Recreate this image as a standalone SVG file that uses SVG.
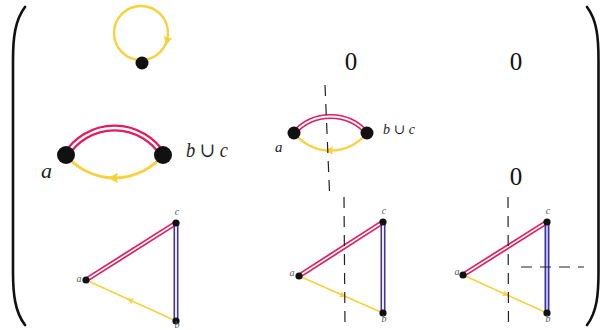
<svg xmlns="http://www.w3.org/2000/svg" width="601" height="330" viewBox="0 0 601 330">
<style>
.paren{fill:none;stroke:#111;stroke-width:2.6;stroke-linecap:round}
.dot{fill:#111}
.mag{fill:none;stroke:#E31C5F}
.yel{fill:none;stroke:#F7D23E}
.blu{fill:none;stroke:#3F32A6}
.gap{fill:none;stroke:#fff}
.dash{fill:none;stroke:#222;stroke-width:1.2;stroke-dasharray:11 8}
.lbl{font-family:"Liberation Serif","DejaVu Serif",serif;font-style:italic;fill:#222}
.sm{font-family:"Liberation Serif","DejaVu Serif",serif;font-style:italic;fill:#555;font-size:10px;text-anchor:middle}
.zero{font-family:"Liberation Serif","DejaVu Serif",serif;font-size:25px;fill:#111;text-anchor:middle}
.ah{fill:#F7D23E}
</style>
<defs>
<path id="ah" d="M4,0 L-4,-4 L-2.5,0 L-4,4 Z"/>
</defs>
<g id="parens">
<path class="paren" d="M25,7 C15,20 13,38 13,60 L13,272 C13,294 15,312 25,325"/>
<path class="paren" d="M587,7 C597,20 598.5,38 598.5,60 L598.5,272 C598.5,294 597,312 587,325"/>
</g>
<g id="connectors">
<circle class="yel" cx="141" cy="33" r="27" stroke-width="2.4"/>
<use href="#ah" class="ah" transform="translate(167,41) rotate(105) scale(1.1)"/>
<path class="mag" stroke-width="7" d="M66,155 A57,57 0 0 1 163,155"/>
<path class="gap" stroke-width="2.4" d="M66,155 A57,57 0 0 1 163,155"/>
<path class="yel" stroke-width="2.8" d="M66,155 A62.6,62.6 0 0 0 163,155"/>
<use href="#ah" class="ah" transform="translate(113,178) rotate(180) scale(1.3)"/>
<path class="mag" stroke-width="5.2" d="M294,133 A48.6,48.6 0 0 1 367,133"/>
<path class="gap" stroke-width="1.8" d="M294,133 A48.6,48.6 0 0 1 367,133"/>
<path class="yel" stroke-width="2.3" d="M294,133 A46.8,46.8 0 0 0 367,133"/>
<use href="#ah" class="ah" transform="translate(329,150.5) rotate(180) scale(1.05)"/>
<path class="dash" d="M325,85 L329.5,192"/>
<path class="mag" stroke-width="5" d="M86,280 L176,223"/>
<path class="gap" stroke-width="1.6" d="M86,280 L176,223"/>
<path class="blu" stroke-width="5" d="M176,223 L176,321"/>
<path class="gap" stroke-width="1.8" d="M176,223 L176,321"/>
<path class="yel" stroke-width="1.6" d="M176,321 L86,280"/>
<use href="#ah" class="ah" transform="translate(130,300) rotate(204.5) scale(0.8)"/>
<path class="mag" stroke-width="5" d="M299,276 L383,222"/>
<path class="gap" stroke-width="1.6" d="M299,276 L383,222"/>
<path class="blu" stroke-width="5" d="M383,222 L383,313"/>
<path class="gap" stroke-width="1.8" d="M383,222 L383,313"/>
<path class="yel" stroke-width="1.6" d="M299,276 L383,313"/>
<use href="#ah" class="ah" transform="translate(343,295.5) rotate(23.8) scale(0.8)"/>
<path class="dash" d="M344,197 L345,330"/>
<path class="mag" stroke-width="5" d="M463,275 L547,222"/>
<path class="gap" stroke-width="1.6" d="M463,275 L547,222"/>
<path class="blu" stroke-width="5" d="M547,222 L547,313"/>
<path fill="none" stroke="#C9C6F0" stroke-width="1.8" d="M547,222 L547,313"/>
<path class="yel" stroke-width="1.6" d="M463,275 L547,313"/>
<use href="#ah" class="ah" transform="translate(506,294.5) rotate(24.3) scale(0.8)"/>
<path class="dash" d="M508,197 L508.5,330"/>
<path class="dash" d="M521,267 L584,267"/>
</g>
<g id="n-loop">
<circle class="dot" cx="142" cy="63" r="6.5"/>
</g>
<g id="n-ml-a">
<circle class="dot" cx="66" cy="155" r="9"/>
<text class="lbl" x="41" y="178" font-size="22">a</text>
</g>
<g id="n-ml-bc">
<circle class="dot" cx="163" cy="155" r="9"/>
<text class="lbl" x="186" y="157" font-size="20" textLength="42" lengthAdjust="spacingAndGlyphs">b ∪ c</text>
</g>
<g id="n-mc-a">
<circle class="dot" cx="294" cy="133" r="6.5"/>
<text class="lbl" x="275" y="152" font-size="15">a</text>
</g>
<g id="n-mc-bc">
<circle class="dot" cx="367" cy="133" r="6.5"/>
<text class="lbl" x="383" y="134" font-size="14" textLength="32" lengthAdjust="spacingAndGlyphs">b ∪ c</text>
</g>
<g id="zeros">
<text class="zero" x="351" y="70">0</text>
<text class="zero" x="516" y="70">0</text>
<text class="zero" x="516" y="185">0</text>
</g>
<g id="n-bl">
<circle class="dot" cx="86" cy="280" r="3.6"/>
<circle class="dot" cx="176" cy="223" r="3.6"/>
<circle class="dot" cx="176" cy="321" r="3.6"/>
<text class="sm" x="79" y="282">a</text>
<text class="sm" x="177" y="215">c</text>
<text class="sm" x="177" y="327.5">b</text>
</g>
<g id="n-bm">
<circle class="dot" cx="299" cy="276" r="3.6"/>
<circle class="dot" cx="383" cy="222" r="3.6"/>
<circle class="dot" cx="383" cy="313" r="3.6"/>
<text class="sm" x="292" y="276">a</text>
<text class="sm" x="384" y="214">c</text>
<text class="sm" x="384" y="322">b</text>
</g>
<g id="n-br">
<circle class="dot" cx="463" cy="275" r="3.6"/>
<circle class="dot" cx="547" cy="222" r="3.6"/>
<circle class="dot" cx="547" cy="313" r="3.6"/>
<text class="sm" x="457" y="275">a</text>
<text class="sm" x="548" y="214">c</text>
<text class="sm" x="548" y="322">b</text>
</g>
</svg>
